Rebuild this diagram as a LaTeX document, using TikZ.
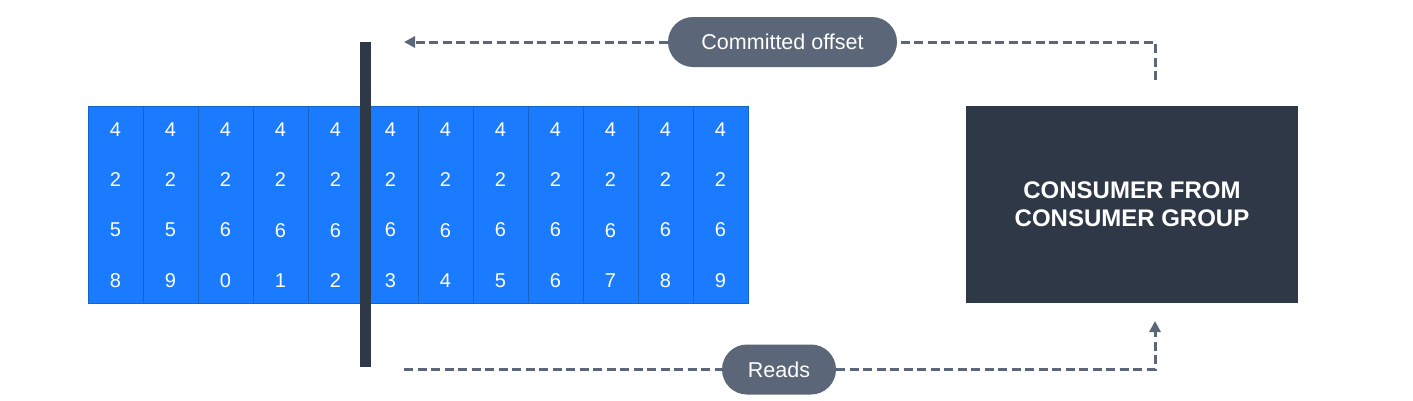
\documentclass[tikz,border=0pt]{standalone}
\usepackage{fontspec}
\setmainfont{Liberation Sans}
\usetikzlibrary{positioning,arrows.meta}
\definecolor{logblue}{HTML}{1A7BFF}
\definecolor{logedge}{HTML}{1664C4}
\definecolor{slate}{HTML}{2E3847}
\definecolor{pillgray}{HTML}{5B6678}
\tikzset{
 col/.style
  = {rectangle, draw=logedge, fill=logblue, line width=0.8pt, outer sep=0pt,
     inner sep=0pt, minimum width=55pt, minimum height=197pt, text=white,
     align=center, font=\fontsize{20}{50.3}\selectfont},
 bar/.style
  = {rectangle, fill=slate, minimum width=11pt, minimum height=325pt, inner sep=0pt},
 box/.style
  = {rectangle, fill=slate, minimum width=332pt, minimum height=197pt, text=white,
     align=center, font=\fontsize{24}{28}\selectfont\bfseries},
 pill/.style
  = {rectangle, fill=pillgray, rounded corners=25pt, minimum height=50pt,
     inner sep=0pt, text=white, font=\fontsize{21.5}{24}\selectfont},
 l/.style
  = {draw, pillgray, line width=3pt, dash pattern=on 9pt off 4.5pt},
 la/.style
  = {l, -{Triangle[length=11pt,width=11pt]}}
}
\begin{document}
\begin{tikzpicture}[x=1pt, y=-1pt]
    \useasboundingbox (0,0) rectangle (1413,400);

    \node [col] (c1) at (115.5,205) {4\\2\\5\\8};
    \node [col, right = 0pt of c1] (c2) {4\\2\\5\\9};
    \node [col, right = 0pt of c2] (c3) {4\\2\\6\\0};
    \node [col, right = 0pt of c3] (c4) {4\\2\\6\\1};
    \node [col, right = 0pt of c4] (c5) {4\\2\\6\\2};
    \node [col, right = 0pt of c5] (c6) {4\\2\\6\\3};
    \node [col, right = 0pt of c6] (c7) {4\\2\\6\\4};
    \node [col, right = 0pt of c7] (c8) {4\\2\\6\\5};
    \node [col, right = 0pt of c8] (c9) {4\\2\\6\\6};
    \node [col, right = 0pt of c9] (c10) {4\\2\\6\\7};
    \node [col, right = 0pt of c10] (c11) {4\\2\\6\\8};
    \node [col, right = 0pt of c11] (c12) {4\\2\\6\\9};

    \node [bar] (offsetbar) at (365.5,204.5) {};
    \node [box] (consumer) at (1132,204.5) {CONSUMER FROM\\CONSUMER GROUP};

    \node [pill, minimum width=229pt] (committed) at (782.5,42) {Committed offset};
    \node [pill, minimum width=114pt] (reads) at (779,369.5) {Reads};

    \coordinate (commitfrom) at (1155,80);
    \coordinate (committo) at (404,42);
    \coordinate (readfrom) at (404,369.5);
    \coordinate (readto) at (1155,321);

    \path [l] (commitfrom) |- (committed.east);
    \path [la] (committed.west) -- (committo);
    \path [l] (readfrom) -- (reads.west);
    \path [la] (reads.east) -| (readto);

\end{tikzpicture}
\end{document}
